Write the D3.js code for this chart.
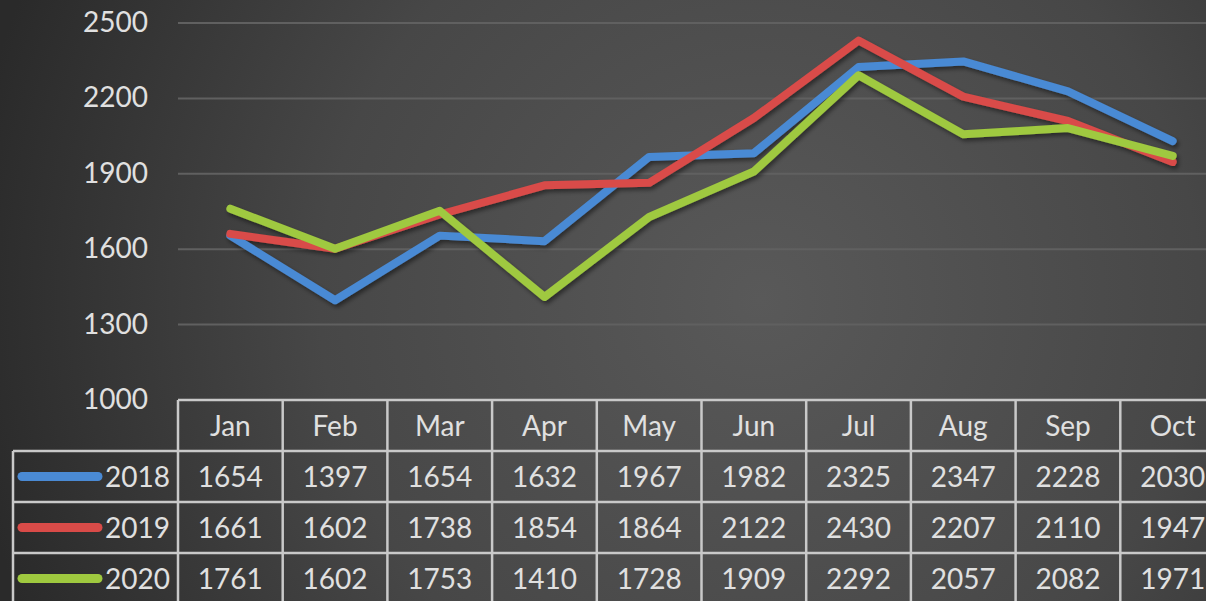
<!doctype html>
<html>
<head>
<meta charset="UTF-8">
<script src="https://cdn.jsdelivr.net/npm/d3@7"></script>
<style>
  body { margin: 0; background: #2a2a2a; }
  svg { display: block; font-family: Lato, "Open Sans", sans-serif; }
</style>
</head>
<body>
<svg id="chart"></svg>
<script>
// data
var months = ["Jan", "Feb", "Mar", "Apr", "May", "Jun", "Jul", "Aug", "Sep", "Oct"];
var years = ["2018", "2019", "2020"];
var v2018 = [1654, 1397, 1654, 1632, 1967, 1982, 2325, 2347, 2228, 2030];
var v2019 = [1661, 1602, 1738, 1854, 1864, 2122, 2430, 2207, 2110, 1947];
var v2020 = [1761, 1602, 1753, 1410, 1728, 1909, 2292, 2057, 2082, 1971];
var yTicks = [1000, 1300, 1600, 1900, 2200, 2500];
var colors = ["#4a8ad4", "#d94b48", "#9fc93f"];

var width = 1206, height = 601;
var series = [v2018, v2019, v2020];
var textColor = "#e0e0e0";

var svg = d3.select("#chart").attr("width", width).attr("height", height);

var defs = svg.append("defs");
var grad = defs.append("radialGradient").attr("id", "bg")
    .attr("gradientUnits", "userSpaceOnUse")
    .attr("cx", 760).attr("cy", 300).attr("r", 800);
grad.append("stop").attr("offset", "0%").attr("stop-color", "#595959");
grad.append("stop").attr("offset", "55%").attr("stop-color", "#474747");
grad.append("stop").attr("offset", "100%").attr("stop-color", "#2a2a2a");

var shadow = defs.append("filter").attr("id", "shadow")
    .attr("x", "-10%").attr("y", "-10%").attr("width", "120%").attr("height", "130%");
shadow.append("feDropShadow").attr("dx", 2).attr("dy", 3)
    .attr("stdDeviation", 2).attr("flood-color", "#000").attr("flood-opacity", 0.45);

svg.append("rect").attr("width", width).attr("height", height).attr("fill", "url(#bg)");

var left = 178, colW = 104.7;
var x = d3.scaleBand().domain(months).range([left, left + colW * months.length]);
var y = d3.scaleLinear().domain([1000, 2500]).range([400, 23]);

// gridlines
svg.append("g").selectAll("line").data(yTicks.slice(1)).join("line")
    .attr("x1", left).attr("x2", width)
    .attr("y1", function(d){ return y(d); }).attr("y2", function(d){ return y(d); })
    .attr("stroke", "#606060").attr("stroke-width", 2);

// y axis labels
svg.append("g").selectAll("text").data(yTicks).join("text")
    .attr("x", 148).attr("y", function(d){ return y(d) + 9; })
    .attr("text-anchor", "end")
    .attr("fill", textColor).attr("font-size", 28)
    .text(function(d){ return d; });

// lines
var line = d3.line()
    .x(function(d, i){ return x(months[i]) + x.bandwidth() / 2; })
    .y(function(d){ return y(d); });

svg.append("g").attr("filter", "url(#shadow)").selectAll("path").data(series).join("path")
    .attr("d", line)
    .attr("fill", "none")
    .attr("stroke", function(d, i){ return colors[i]; })
    .attr("stroke-width", 8)
    .attr("stroke-linejoin", "round")
    .attr("stroke-linecap", "round");

// data table
var rowTop = 400, rowH = 51;
var tableRight = left + colW * months.length;
var grid = svg.append("g").attr("stroke", "#c9c9c9").attr("stroke-width", 2.5);
// horizontal lines
grid.append("line").attr("x1", left).attr("x2", tableRight).attr("y1", rowTop).attr("y2", rowTop);
for (var r = 1; r <= 4; r++) {
    grid.append("line").attr("x1", 13).attr("x2", tableRight)
        .attr("y1", rowTop + r * rowH).attr("y2", rowTop + r * rowH);
}
// vertical lines
grid.append("line").attr("x1", 13).attr("x2", 13).attr("y1", rowTop + rowH).attr("y2", height + 10);
for (var c = 0; c <= months.length; c++) {
    grid.append("line").attr("x1", left + c * colW).attr("x2", left + c * colW)
        .attr("y1", rowTop).attr("y2", height + 10);
}

// header
svg.append("g").selectAll("text").data(months).join("text")
    .attr("x", function(d){ return x(d) + x.bandwidth() / 2; })
    .attr("y", rowTop + rowH / 2 + 10)
    .attr("text-anchor", "middle")
    .attr("fill", textColor).attr("font-size", 28)
    .text(function(d){ return d; });

// rows
years.forEach(function(yr, i) {
    var cy = rowTop + rowH * (i + 1) + rowH / 2;
    svg.append("line")
        .attr("x1", 22).attr("x2", 98).attr("y1", cy).attr("y2", cy)
        .attr("stroke", colors[i]).attr("stroke-width", 9).attr("stroke-linecap", "round");
    svg.append("text")
        .attr("x", 170).attr("y", cy + 10)
        .attr("text-anchor", "end")
        .attr("fill", textColor).attr("font-size", 28)
        .text(yr);
    svg.append("g").selectAll("text").data(series[i]).join("text")
        .attr("x", function(d, j){ return x(months[j]) + x.bandwidth() / 2; })
        .attr("y", cy + 10)
        .attr("text-anchor", "middle")
        .attr("fill", textColor).attr("font-size", 28)
        .text(function(d){ return d; });
});
</script>
</body>
</html>
